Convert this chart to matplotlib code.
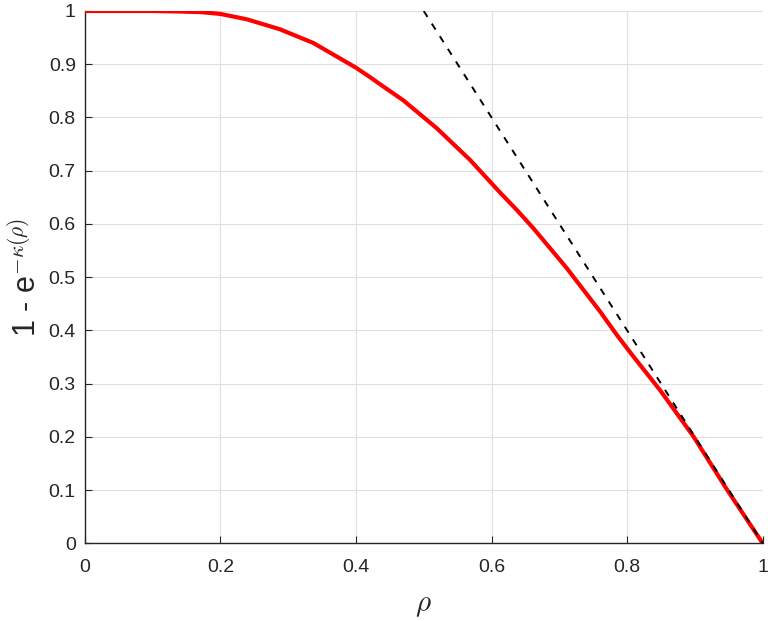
import matplotlib
matplotlib.use("Agg")
import matplotlib.pyplot as plt
from matplotlib.ticker import FuncFormatter

rho = [0.0, 0.05, 0.10, 0.14, 0.17, 0.20, 0.239, 0.288, 0.337, 0.40, 0.421,
       0.436, 0.470, 0.519, 0.5685, 0.6127, 0.6373, 0.6619, 0.6865, 0.7111,
       0.7357, 0.7603, 0.7849, 0.8095, 0.849, 0.898, 0.947, 1.00]
curve = [1.0, 1.0, 1.0, 0.999, 0.998, 0.9945, 0.9844, 0.9656, 0.940, 0.8935, 0.8755,
         0.862, 0.832, 0.780, 0.720, 0.6587, 0.6262, 0.5915, 0.5542, 0.5166,
         0.4759, 0.4351, 0.3913, 0.3505, 0.287, 0.2004, 0.1015, 0.0]
tangent_x = [0.5, 1.0]
tangent_y = [1.0, 0.0]
xticks = [0, 0.2, 0.4, 0.6, 0.8, 1]
yticks = [0, 0.1, 0.2, 0.3, 0.4, 0.5, 0.6, 0.7, 0.8, 0.9, 1]

plt.rcParams['font.family'] = ['Liberation Sans', 'DejaVu Sans']
plt.rcParams['mathtext.fontset'] = 'cm'

fig = plt.figure(figsize=(7.68, 6.21), dpi=100)
ax = fig.add_axes([0.1104, 0.1251, 0.8827, 0.8572])

ax.plot(rho, curve, color='#ff0000', lw=3.0, solid_joinstyle='round', zorder=3)
ax.plot(tangent_x, tangent_y, color='black', lw=1.4, dashes=(3.6, 4.1), zorder=4)

ax.set_xlim(0, 1)
ax.set_ylim(0, 1)
ax.set_xticks(xticks)
ax.set_yticks(yticks)
fmt = FuncFormatter(lambda v, p: '%g' % v)
ax.xaxis.set_major_formatter(fmt)
ax.yaxis.set_major_formatter(fmt)

ax.grid(True, color='#dfdfdf', lw=0.8)
ax.set_axisbelow(True)
for s in ['top', 'right']:
    ax.spines[s].set_visible(False)
for s in ['left', 'bottom']:
    ax.spines[s].set_color('#262626')
    ax.spines[s].set_linewidth(1.0)
ax.tick_params(direction='in', length=5, width=0.8, colors='#262626',
               labelsize=14)
ax.tick_params(axis='x', pad=11.5)
ax.tick_params(axis='y', pad=6.5)

ax.set_xlabel(r'$\rho$', fontsize=21, color='#262626', labelpad=10.5)
ax.set_ylabel(r'1 - e$^{-\kappa(\rho)}$', fontsize=22, color='#262626', labelpad=4)

fig.savefig('out.png', dpi=100)
